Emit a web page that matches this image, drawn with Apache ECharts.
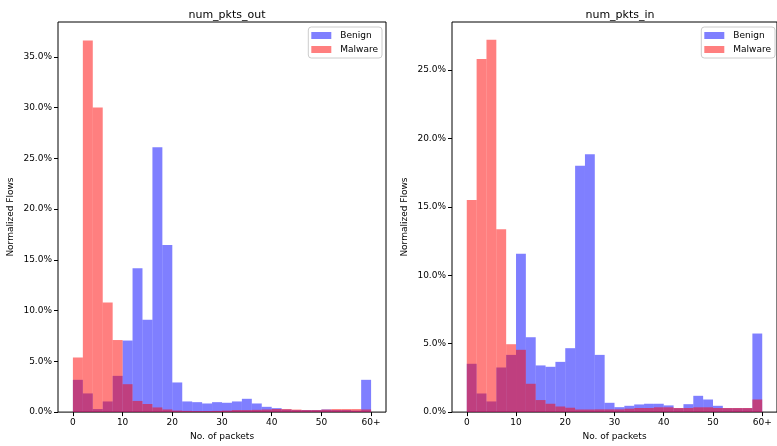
<!DOCTYPE html>
<html><head><meta charset="utf-8">
<script src="https://cdn.jsdelivr.net/npm/echarts@6/dist/echarts.min.js"></script>
<style>html,body{margin:0;padding:0;background:#fff}#c{width:777px;height:446px}</style>
</head><body><div id="c"></div>
<script>
var binEdges = [0,2,4,6,8,10,12,14,16,18,20,22,24,26,28,30,32,34,36,38,40,42,44,46,48,50,52,54,56,58,60];
var xTickValues = [0,10,20,30,40,50,60];
var xTickLabels = ['0','10','20','30','40','50','60+'];
var yTicksOut = [0,5,10,15,20,25,30,35];
var yTicksIn = [0,5,10,15,20,25];

// num_pkts_out (percent)
var outBenign = [3.18,1.84,0.3,1.05,3.57,7.05,14.16,9.1,26.1,16.46,2.92,1.05,0.98,0.85,0.98,0.92,1.05,1.31,0.85,0.52,0.39,0.26,0.2,0.2,0.2,0.26,0.2,0.2,0.15,3.18];
var outMalware = [5.38,36.6,30.0,10.8,7.1,2.75,1.1,0.8,0.46,0.26,0.15,0.12,0.1,0.1,0.12,0.15,0.2,0.2,0.22,0.25,0.3,0.3,0.25,0.2,0.2,0.25,0.3,0.3,0.3,0.26];
// num_pkts_in (percent)
var inBenign = [3.53,1.36,0.78,3.26,4.18,11.56,5.47,3.41,3.31,3.67,4.67,18.0,18.83,4.18,0.68,0.36,0.46,0.56,0.61,0.61,0.49,0.29,0.58,1.19,0.92,0.46,0.29,0.29,0.29,5.74];
var inMalware = [15.5,25.8,27.2,13.36,4.96,4.55,2.07,0.88,0.61,0.41,0.32,0.19,0.19,0.2,0.2,0.2,0.25,0.3,0.3,0.35,0.35,0.3,0.3,0.35,0.35,0.3,0.3,0.3,0.3,0.92];

var FONT = 'DejaVu Sans';
var BLUE = 'rgba(0,0,255,0.5)', RED = 'rgba(255,0,0,0.5)';

function histData(vals){
  var d = [];
  for (var i = 0; i < vals.length; i++) d.push([binEdges[i], vals[i], binEdges[i+1]]);
  return d;
}
function histSeries(name, vals, idx, color){
  return {
    type:'custom', name:name, xAxisIndex:idx, yAxisIndex:idx, clip:true,
    itemStyle:{color:color},
    encode:{x:[0,2], y:1},
    data: histData(vals),
    renderItem: function(params, api){
      var p0 = api.coord([api.value(0), api.value(1)]);
      var p1 = api.coord([api.value(2), 0]);
      return {type:'rect', shape:{x:p0[0], y:p0[1], width:p1[0]-p0[0], height:p1[1]-p0[1]}, style:{fill:color}};
    }
  };
}
function xAxis(idx){
  return {
    type:'value', gridIndex:idx, min:-3, max:63,
    name:'No. of packets', nameLocation:'middle', nameGap:19,
    nameTextStyle:{fontFamily:FONT, fontSize:9, color:'#000'},
    axisLine:{show:false, onZero:false}, splitLine:{show:false},
    axisTick:{show:true, length:4, lineStyle:{color:'#000'}, customValues:xTickValues},
    axisLabel:{fontFamily:FONT, fontSize:9, color:'#000', margin:6, customValues:xTickValues,
      formatter:function(v){ var k = xTickValues.indexOf(v); return k >= 0 ? xTickLabels[k] : ''; }}
  };
}
function yAxis(idx, max, ticks){
  return {
    type:'value', gridIndex:idx, min:0, max:max,
    name:'Normalized Flows', nameLocation:'middle', nameGap:43, nameRotate:90,
    nameTextStyle:{fontFamily:FONT, fontSize:9, color:'#000'},
    axisLine:{show:false, onZero:false}, splitLine:{show:false},
    axisTick:{show:true, length:4, lineStyle:{color:'#000'}, customValues:ticks},
    axisLabel:{fontFamily:FONT, fontSize:9, color:'#000', margin:6, customValues:ticks,
      formatter:function(v){ return v.toFixed(1) + '%'; }}
  };
}
function legend(right){
  return {
    orient:'vertical', right:right, top:27, itemWidth:20, itemHeight:7, itemGap:5,
    padding:[4,4,4,3], backgroundColor:'#fff', borderColor:'#ccc', borderWidth:1, borderRadius:3,
    icon:'rect', selectedMode:false,
    textStyle:{fontFamily:FONT, fontSize:9, color:'#000', padding:[0,0,0,4]},
    data:['Benign','Malware']
  };
}

var chart = echarts.init(document.getElementById('c'), null, {renderer:'canvas'});
chart.setOption({
  animation:false,
  backgroundColor:'#fff',
  title:[
    {text:'num_pkts_out', left:222, top:5, textAlign:'center', textStyle:{fontFamily:FONT, fontSize:11, fontWeight:'normal', color:'#000'}},
    {text:'num_pkts_in', left:615, top:5, textAlign:'center', textStyle:{fontFamily:FONT, fontSize:11, fontWeight:'normal', color:'#000'}}
  ],
  legend:[legend(395), legend(2)],
  grid:[
    {left:58, top:22, width:328, height:391, show:true, borderColor:'#000', borderWidth:1, backgroundColor:'transparent'},
    {left:452, top:22, width:328, height:391, show:true, borderColor:'#000', borderWidth:1, backgroundColor:'transparent'}
  ],
  xAxis:[xAxis(0), xAxis(1)],
  yAxis:[yAxis(0, 38.43, yTicksOut), yAxis(1, 28.5, yTicksIn)],
  series:[
    histSeries('Benign', outBenign, 0, BLUE),
    histSeries('Malware', outMalware, 0, RED),
    histSeries('Benign', inBenign, 1, BLUE),
    histSeries('Malware', inMalware, 1, RED)
  ]
});
</script></body></html>
